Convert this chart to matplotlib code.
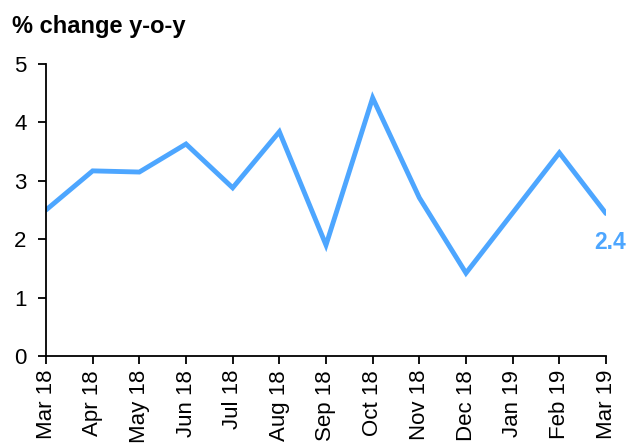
import matplotlib.pyplot as plt

meses = ['Mar 18', 'Apr 18', 'May 18', 'Jun 18', 'Jul 18', 'Aug 18', 'Sep 18',
         'Oct 18', 'Nov 18', 'Dec 18', 'Jan 19', 'Feb 19', 'Mar 19']
valores = [2.50, 3.17, 3.15, 3.63, 2.88, 3.84, 1.90, 4.42, 2.71, 1.42, 2.45, 3.48, 2.44]
etiqueta_final = '2.4'

azul = '#4da6ff'

plt.rcParams['font.family'] = ['Liberation Sans', 'DejaVu Sans']

fig = plt.figure(figsize=(6.27, 4.45), dpi=100)
ax = fig.add_axes([46 / 627, 1 - 356 / 445, 560 / 627, 292 / 445])

x = list(range(len(meses)))
ax.plot(x, valores, color=azul, lw=3.5, solid_capstyle='round', solid_joinstyle='miter')

ax.annotate(etiqueta_final, (x[-1], valores[-1]), xytext=(3, -21), textcoords='offset points',
            ha='center', va='center', color=azul, fontsize=16.5, fontweight='bold')

ax.set_xlim(0, len(meses) - 1)
ax.set_ylim(0, 5)
ax.set_yticks(range(6))
ax.set_xticks(x)
ax.set_xticklabels(meses, rotation=90)
ax.tick_params(axis='both', labelsize=16, length=6, width=1.3, direction='out', colors='black')
ax.tick_params(axis='y', pad=8)
ax.tick_params(axis='x', pad=4)

for lado in ['top', 'right']:
    ax.spines[lado].set_visible(False)
for lado in ['left', 'bottom']:
    ax.spines[lado].set_linewidth(1.3)

fig.text(12 / 627, 1 - 27 / 445, '% change y-o-y', fontsize=17, fontweight='bold', va='center', ha='left')

fig.savefig('out.png', dpi=100)
